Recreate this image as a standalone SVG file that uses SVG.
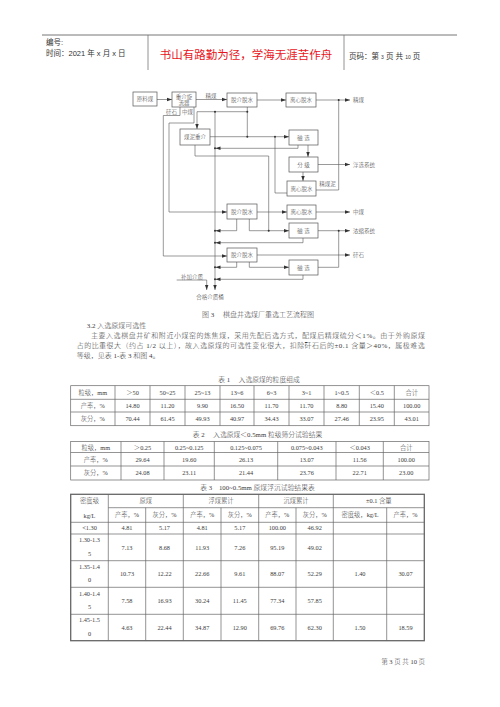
<svg xmlns="http://www.w3.org/2000/svg" width="500" height="707" viewBox="0 0 500 707">
<style>
.t{font-family:"Liberation Serif","Noto Sans CJK SC",serif;fill:#3c3c3c;font-weight:300}
.s{font-family:"Liberation Sans","Noto Sans CJK SC",sans-serif;fill:#333}
.fc{font-size:5.5px}
.c{text-anchor:middle}
.tb{font-size:6.3px}
.bx{fill:#fff;stroke:#555;stroke-width:0.7}
.ln{fill:none;stroke:#555;stroke-width:0.6}
.g{stroke:#666;stroke-width:0.7;fill:none}
</style>
<defs>
<marker id="a" markerWidth="6" markerHeight="6" refX="5" refY="3" orient="auto" markerUnits="userSpaceOnUse"><path d="M0,1.3 L5,3 L0,4.7z" fill="#333"/></marker>
</defs>
<rect width="500" height="707" fill="#fff"/>
<g id="header">
<line x1="42" y1="35" x2="457" y2="35" stroke="#777" stroke-width="1"/>
<line x1="148" y1="35" x2="148" y2="70" stroke="#777" stroke-width="0.8"/>
<line x1="344" y1="35" x2="344" y2="70" stroke="#777" stroke-width="0.8"/>
<text class="s" x="46" y="45" font-size="7.5">编号:</text>
<text class="s" x="46" y="56" font-size="7.5">时间：2021 年 x 月 x 日</text>
<text class="s" x="246" y="59" font-size="11.5" text-anchor="middle" style="fill:#e8141b">书山有路勤为径，学海无涯苦作舟</text>
<text class="s" x="349" y="59" font-size="7.5">页码：第 <tspan font-size="5">3</tspan> 页 共 <tspan font-size="5">10</tspan> 页</text>
</g>
<g id="connectors">
<path class="ln" d="M157,99.5 H172" marker-end="url(#a)"/>
<path class="ln" d="M196,99.5 H227" marker-end="url(#a)"/>
<path class="ln" d="M257,100 H286" marker-end="url(#a)"/>
<path class="ln" d="M316,100 H350" marker-end="url(#a)"/>
<path class="ln" d="M180,107 V115.5 H163.3 V256 H227" marker-end="url(#a)"/>
<path class="ln" d="M194,107 V123 H169 V212 H227" marker-end="url(#a)"/>
<path class="ln" d="M247.3,107 V136.7"/>
<path class="ln" d="M247.3,111.7 H197 V129" marker-end="url(#a)"/>
<path class="ln" d="M210,136.7 H289" marker-end="url(#a)"/>
<path class="ln" d="M215,111.7 V290" marker-end="url(#a)"/>
<path class="ln" d="M308,145 V157" marker-end="url(#a)"/>
<path class="ln" d="M298,145 V148.3 H215.5" marker-end="url(#a)"/>
<path class="ln" d="M318,164.5 H350" marker-end="url(#a)"/>
<path class="ln" d="M303,172 V181" marker-end="url(#a)"/>
<path class="ln" d="M316,190 H338.7 V100"/>
<path class="ln" d="M195,145 V156 H268.7 V230.7"/>
<path class="ln" d="M287,193 H275 V136.7"/>
<path class="ln" d="M257,212 H287" marker-end="url(#a)"/>
<path class="ln" d="M316,212 H350" marker-end="url(#a)"/>
<path class="ln" d="M236.7,219 V230.7 H215.5" marker-end="url(#a)"/>
<path class="ln" d="M249.3,219 V230.7 H289" marker-end="url(#a)"/>
<path class="ln" d="M318,230.7 H350" marker-end="url(#a)"/>
<path class="ln" d="M303,238 V242.7 H215.5" marker-end="url(#a)"/>
<path class="ln" d="M257,255 H350" marker-end="url(#a)"/>
<path class="ln" d="M236.7,262 V267.3 H215.5" marker-end="url(#a)"/>
<path class="ln" d="M249.3,262 V267.3 H289" marker-end="url(#a)"/>
<path class="ln" d="M318,267.3 H338.7 V230.7"/>
<path class="ln" d="M303,275 V279.3 H215.5" marker-end="url(#a)"/>
<path class="ln" d="M176.7,280 H206.7 V290" marker-end="url(#a)"/>
<g fill="#333">
<circle cx="338.7" cy="100" r="1"/><circle cx="247.3" cy="136.7" r="1"/><circle cx="275" cy="136.7" r="1"/>
<circle cx="247.3" cy="111.7" r="1"/><circle cx="215" cy="111.7" r="1"/>
<circle cx="215" cy="148.3" r="1"/><circle cx="268.7" cy="230.7" r="1"/><circle cx="338.7" cy="230.7" r="1"/>
<circle cx="215" cy="230.7" r="1"/><circle cx="215" cy="242.7" r="1"/><circle cx="215" cy="267.3" r="1"/><circle cx="215" cy="279.3" r="1"/>
</g>
<text class="t fc c" x="211" y="97.5">精煤</text>
<text class="t fc c" x="171.5" y="114">矸石</text>
<text class="t fc c" x="187.5" y="114">中煤</text>
<text class="t fc c" x="327.5" y="186">精煤泥</text>
<text class="t fc" x="353" y="102">精煤</text>
<text class="t fc" x="353" y="166.5">浮选系统</text>
<text class="t fc" x="353" y="214">中煤</text>
<text class="t fc" x="353" y="232.7">浓缩系统</text>
<text class="t fc" x="353" y="257">矸石</text>
<text class="t fc c" x="192" y="278.5">补加介质</text>
<text class="t fc c" x="210" y="299">合格介质桶</text>
</g>
<g id="n1"><rect class="bx" x="133" y="92" width="24" height="14"/><text class="t fc c" x="145" y="101">原料煤</text></g>
<g id="n2"><rect class="bx" x="172" y="92" width="24" height="15"/><text class="t fc c" x="184" y="98.5">重介旋</text><text class="t fc c" x="184" y="105">流器</text></g>
<g id="n3"><rect class="bx" x="227" y="93" width="30" height="14"/><text class="t fc c" x="242" y="102">脱介脱水</text></g>
<g id="n4"><rect class="bx" x="286" y="93" width="30" height="14"/><text class="t fc c" x="301" y="102">离心脱水</text></g>
<g id="n5"><rect class="bx" x="180" y="129" width="30" height="16"/><text class="t fc c" x="195" y="139">煤泥重介</text></g>
<g id="n6"><rect class="bx" x="289" y="130" width="29" height="15"/><text class="t fc c" x="303.5" y="139.5">磁  选</text></g>
<g id="n7"><rect class="bx" x="289" y="157" width="29" height="15"/><text class="t fc c" x="303.5" y="166.5">分  级</text></g>
<g id="n8"><rect class="bx" x="287" y="181" width="29" height="15"/><text class="t fc c" x="301.5" y="190.5">离心脱水</text></g>
<g id="n9"><rect class="bx" x="227" y="204" width="30" height="15"/><text class="t fc c" x="242" y="213.5">脱介脱水</text></g>
<g id="n10"><rect class="bx" x="287" y="205" width="29" height="14"/><text class="t fc c" x="301.5" y="214">离心脱水</text></g>
<g id="n11"><rect class="bx" x="289" y="223" width="29" height="15"/><text class="t fc c" x="303.5" y="232.5">磁  选</text></g>
<g id="n12"><rect class="bx" x="227" y="248" width="30" height="14"/><text class="t fc c" x="242" y="257">脱介脱水</text></g>
<g id="n13"><rect class="bx" x="289" y="260" width="29" height="15"/><text class="t fc c" x="303.5" y="269.5">磁  选</text></g>
<g id="body">
<text class="t c" x="258" y="316.5" font-size="7">图 3　  棋盘井选煤厂重选工艺流程图</text>
<text class="t" x="86.7" y="327.5" font-size="7">3.2  入选原煤可选性</text>
<text class="t" x="91" y="337.7" font-size="7" textLength="334" lengthAdjust="spacing">主要入选棋盘井矿和附近小煤窑的炼焦煤，采用先配后选方式，配煤后精煤硫分＜1%。由于外购原煤</text>
<text class="t" x="76.7" y="348.2" font-size="7" textLength="348" lengthAdjust="spacing">占的比重很大（约占 1/2 以上），故入选原煤的可选性变化很大，扣除矸石后的±0.1 含量＞40%，属极难选</text>
<text class="t" x="76.7" y="358.3" font-size="7">等级，见表 1-表 3 和图 4。</text>
</g>
<g id="table1">
<text class="t c" x="259" y="381.5" font-size="6.8">表 1　  入选原煤的粒度组成</text>
<rect class="g" x="70.7" y="385.7" width="358.3" height="40"/>
<path class="g" d="M70.7,399.3H429M70.7,412H429M115,385.7V425.7M150,385.7V425.7M185,385.7V425.7M220,385.7V425.7M254,385.7V425.7M289,385.7V425.7M324,385.7V425.7M359.3,385.7V425.7M394.3,385.7V425.7"/>
<g class="t tb c">
<text x="92.8" y="394.8">粒级，mm</text><text x="132.5" y="394.8">＞50</text><text x="167.5" y="394.8">50~25</text><text x="202.5" y="394.8">25~13</text><text x="237" y="394.8">13~6</text><text x="271.5" y="394.8">6~3</text><text x="306.5" y="394.8">3~1</text><text x="341.7" y="394.8">1~0.5</text><text x="376.8" y="394.8">＜0.5</text><text x="411.7" y="394.8">合计</text>
<text x="92.8" y="408">产率，%</text><text x="132.5" y="408">14.80</text><text x="167.5" y="408">11.20</text><text x="202.5" y="408">9.90</text><text x="237" y="408">16.50</text><text x="271.5" y="408">11.70</text><text x="306.5" y="408">11.70</text><text x="341.7" y="408">8.80</text><text x="376.8" y="408">15.40</text><text x="411.7" y="408">100.00</text>
<text x="92.8" y="421">灰分，%</text><text x="132.5" y="421">70.44</text><text x="167.5" y="421">61.45</text><text x="202.5" y="421">49.93</text><text x="237" y="421">40.97</text><text x="271.5" y="421">34.43</text><text x="306.5" y="421">33.07</text><text x="341.7" y="421">27.46</text><text x="376.8" y="421">23.95</text><text x="411.7" y="421">43.01</text>
</g>
</g>
<g id="table2">
<text class="t c" x="257.5" y="436.5" font-size="6.8">表 2　  入选原煤＜0.5mm 粒级筛分试验结果</text>
<rect class="g" x="70.7" y="441.5" width="358.3" height="38.5"/>
<path class="g" d="M70.7,452.5H429M70.7,466H429M121,441.5V480M164,441.5V480M214.3,441.5V480M277.7,441.5V480M336,441.5V480M383.3,441.5V480"/>
<g class="t tb c">
<text x="95.8" y="449.5">粒级，mm</text><text x="142.5" y="449.5">＞0.25</text><text x="189.2" y="449.5">0.25~0.125</text><text x="246" y="449.5">0.125~0.075</text><text x="306.8" y="449.5">0.075~0.043</text><text x="359.7" y="449.5">＜0.043</text><text x="406.2" y="449.5">合计</text>
<text x="95.8" y="461.5">产率，%</text><text x="142.5" y="461.5">29.64</text><text x="189.2" y="461.5">19.60</text><text x="246" y="461.5">26.13</text><text x="306.8" y="461.5">13.07</text><text x="359.7" y="461.5">11.56</text><text x="406.2" y="461.5">100.00</text>
<text x="95.8" y="475.3">灰分，%</text><text x="142.5" y="475.3">24.08</text><text x="189.2" y="475.3">23.11</text><text x="246" y="475.3">21.44</text><text x="306.8" y="475.3">23.76</text><text x="359.7" y="475.3">22.71</text><text x="406.2" y="475.3">23.00</text>
</g>
</g>
<g id="table3">
<text class="t c" x="257.5" y="490" font-size="6.8">表 3　100~0.5mm 原煤浮沉试验结果表</text>
<rect x="70.7" y="494.3" width="353.6" height="146.4" fill="none" stroke="#666" stroke-width="1.3"/>
<path class="g" d="M108.3,507.7H424.3M70.7,522.3H424.3M70.7,534H424.3M70.7,560.7H424.3M70.7,587.3H424.3M70.7,614.3H424.3
M108.3,494.3V640.7M183.3,494.3V640.7M258.7,494.3V640.7M333.3,494.3V640.7M145.7,507.7V640.7M221,507.7V640.7M296,507.7V640.7M386.7,507.7V640.7"/>
<g class="t tb c">
<text x="89.5" y="502.5">密度级</text><text x="89.5" y="517.5">kg/L</text>
<text x="145.8" y="503">原煤</text><text x="221" y="503">浮煤累计</text><text x="296" y="503">沉煤累计</text><text x="378.8" y="503">±0.1 含量</text>
<text x="127" y="517.2">产率，%</text><text x="164.5" y="517.2">灰分，%</text><text x="202.2" y="517.2">产率，%</text><text x="239.8" y="517.2">灰分，%</text><text x="277.3" y="517.2">产率，%</text><text x="314.7" y="517.2">灰分，%</text><text x="360" y="517.2">密度级，kg/L</text><text x="405.5" y="517.2">产率，%</text>
<text x="89.5" y="530.3">&lt;1.30</text><text x="127" y="530.3">4.81</text><text x="164.5" y="530.3">5.17</text><text x="202.2" y="530.3">4.81</text><text x="239.8" y="530.3">5.17</text><text x="277.3" y="530.3">100.00</text><text x="314.7" y="530.3">46.92</text>
<text x="89.5" y="542.3">1.30-1.3</text><text x="89.5" y="555.5">5</text><text x="127" y="549.5">7.13</text><text x="164.5" y="549.5">8.68</text><text x="202.2" y="549.5">11.93</text><text x="239.8" y="549.5">7.26</text><text x="277.3" y="549.5">95.19</text><text x="314.7" y="549.5">49.02</text>
<text x="89.5" y="569">1.35-1.4</text><text x="89.5" y="582.2">0</text><text x="127" y="576">10.73</text><text x="164.5" y="576">12.22</text><text x="202.2" y="576">22.66</text><text x="239.8" y="576">9.61</text><text x="277.3" y="576">88.07</text><text x="314.7" y="576">52.29</text><text x="360" y="576">1.40</text><text x="405.5" y="576">30.07</text>
<text x="89.5" y="595.5">1.40-1.4</text><text x="89.5" y="608.8">5</text><text x="127" y="602.8">7.58</text><text x="164.5" y="602.8">16.93</text><text x="202.2" y="602.8">30.24</text><text x="239.8" y="602.8">11.45</text><text x="277.3" y="602.8">77.34</text><text x="314.7" y="602.8">57.85</text>
<text x="89.5" y="622.3">1.45-1.5</text><text x="89.5" y="635.7">0</text><text x="127" y="629.5">4.63</text><text x="164.5" y="629.5">22.44</text><text x="202.2" y="629.5">34.87</text><text x="239.8" y="629.5">12.90</text><text x="277.3" y="629.5">69.76</text><text x="314.7" y="629.5">62.30</text><text x="360" y="629.5">1.50</text><text x="405.5" y="629.5">18.59</text>
</g>
</g>
<g id="footer"><text class="t" x="425" y="664" font-size="6.5" text-anchor="end">第 3 页  共 10 页</text></g>
</svg>
